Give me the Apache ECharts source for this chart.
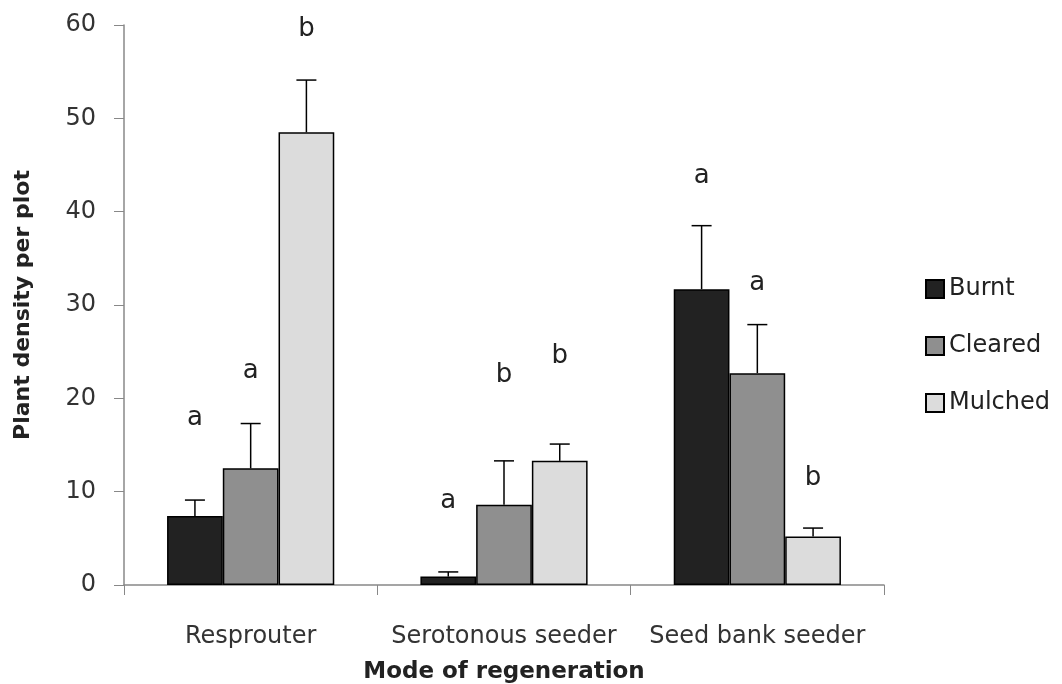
<!DOCTYPE html>
<html>
<head>
<meta charset="utf-8">
<script src="https://cdn.jsdelivr.net/npm/echarts@6/dist/echarts.min.js"></script>
<style>
  html, body { margin: 0; padding: 0; background: #fff; }
  #chart { width: 1062px; height: 684px; }
</style>
</head>
<body>
<div id="chart"></div>
<script>
var categories = ['Resprouter', 'Serotonous seeder', 'Seed bank seeder'];
var seriesNames = ['Burnt', 'Cleared', 'Mulched'];

// mean values
var burnt = [7.4, 0.9, 31.7];
var cleared = [12.5, 8.6, 22.7];
var mulched = [48.5, 13.3, 5.2];

// error bar size (above the bar)
var burntErr = [1.7, 0.5, 6.8];
var clearedErr = [4.8, 4.7, 5.2];
var mulchedErr = [5.6, 1.8, 0.9];

// significance letters and the height they sit at
var burntLetters = ['a', 'a', 'a'];
var clearedLetters = ['a', 'b', 'a'];
var mulchedLetters = ['b', 'b', 'b'];
var burntLetterY = [17.9, 9.0, 43.8];
var clearedLetterY = [22.9, 22.5, 32.3];
var mulchedLetterY = [59.5, 24.5, 11.4];

var colors = ['#222222', '#8f8f8f', '#dcdcdc'];
var gapPct = 0.34;

function barSeries(name, values, color) {
    return {
        name: name,
        type: 'bar',
        data: values,
        barGap: '0%',
        barCategoryGap: (gapPct * 100) + '%',
        itemStyle: { color: color, borderColor: '#000', borderWidth: 1.5 }
    };
}

function errSeries(idx, values, errs, letters, letterY) {
    var data = values.map(function(v, i) { return [i, v, errs[i], letterY[i]]; });
    return {
        type: 'custom',
        z: 10,
        silent: true,
        data: data,
        renderItem: function(params, api) {
            var x = api.value(0), v = api.value(1), e = api.value(2), ly = api.value(3);
            var band = api.size([1, 0])[0];
            var bw = band * (1 - gapPct) / 3;
            var base = api.coord([x, v]);
            var top = api.coord([x, v + e]);
            var lp = api.coord([x, ly]);
            var cx = base[0] + (idx - 1) * bw;
            var st = { stroke: '#000', lineWidth: 1.5 };
            return {
                type: 'group',
                children: [
                    { type: 'line', shape: { x1: cx, y1: base[1], x2: cx, y2: top[1] }, style: st },
                    { type: 'line', shape: { x1: cx - 10, y1: top[1], x2: cx + 10, y2: top[1] }, style: st },
                    { type: 'text', x: cx, y: lp[1], style: {
                        text: letters[params.dataIndex], fill: '#222',
                        font: '26px "DejaVu Sans"', align: 'center', verticalAlign: 'middle' } }
                ]
            };
        }
    };
}

var chart = echarts.init(document.getElementById('chart'));
var option = {
    animation: false,
    textStyle: { fontFamily: 'DejaVu Sans' },
    grid: { left: 124, right: 178, top: 25, bottom: 99, containLabel: false, outerBoundsMode: 'none' },
    legend: {
        data: seriesNames,
        orient: 'vertical',
        left: 920,
        top: 272,
        icon: 'rect',
        itemWidth: 18,
        itemHeight: 18,
        itemGap: 33,
        textStyle: { fontSize: 24, color: '#222', fontFamily: 'DejaVu Sans' }
    },
    xAxis: {
        type: 'category',
        data: categories,
        name: 'Mode of regeneration',
        nameLocation: 'middle',
        nameGap: 76,
        nameTextStyle: { fontSize: 23, fontWeight: 'bold', color: '#222' },
        axisLine: { lineStyle: { color: '#888', width: 1.5 } },
        axisTick: { show: true, length: 10, inside: false, lineStyle: { color: '#888' } },
        axisLabel: { fontSize: 24, color: '#333', margin: 40, interval: 0 }
    },
    yAxis: {
        type: 'value',
        min: 0,
        max: 60,
        interval: 10,
        name: 'Plant density per plot',
        nameLocation: 'middle',
        nameGap: 90,
        nameTextStyle: { fontSize: 22, fontWeight: 'bold', color: '#222' },
        axisLine: { show: true, lineStyle: { color: '#888', width: 1.5 } },
        axisTick: { show: true, length: 10, lineStyle: { color: '#888' } },
        splitLine: { show: false },
        axisLabel: { fontSize: 24, color: '#333', margin: 28 }
    },
    series: [
        barSeries('Burnt', burnt, colors[0]),
        barSeries('Cleared', cleared, colors[1]),
        barSeries('Mulched', mulched, colors[2]),
        errSeries(0, burnt, burntErr, burntLetters, burntLetterY),
        errSeries(1, cleared, clearedErr, clearedLetters, clearedLetterY),
        errSeries(2, mulched, mulchedErr, mulchedLetters, mulchedLetterY)
    ]
};
chart.setOption(option);
</script>
</body>
</html>
